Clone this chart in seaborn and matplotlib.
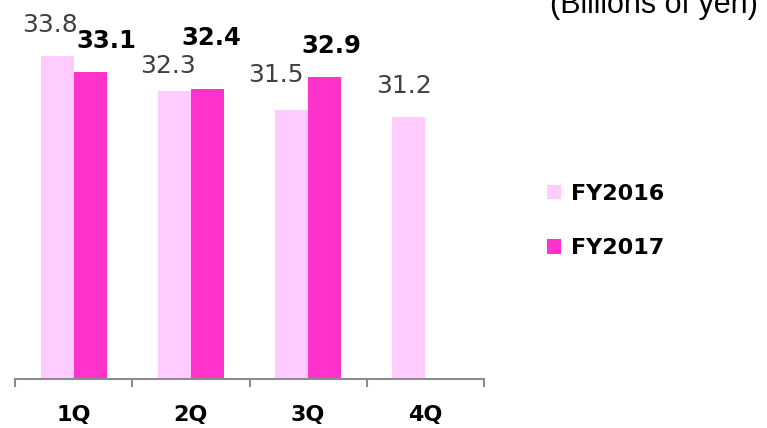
import matplotlib
matplotlib.use("Agg")
import matplotlib.pyplot as plt
import numpy as np
import pandas as pd
import seaborn as sns

# Quarterly figures (billions of yen)
quarters = ["1Q", "2Q", "3Q", "4Q"]
fy2016 = [33.8, 32.3, 31.5, 31.2]
fy2017 = [33.1, 32.4, 32.9, np.nan]
series_names = ["FY2016", "FY2017"]

df = pd.DataFrame({
    "quarter": quarters * 2,
    "value": fy2016 + fy2017,
    "year": [series_names[0]] * 4 + [series_names[1]] * 4,
})

sns.set_theme(style="white")
plt.rcParams["font.family"] = ["DejaVu Sans"]
plt.rcParams["text.color"] = "black"

W, H = 767, 428
fig = plt.figure(figsize=(W / 100, H / 100), dpi=100)
# plot area in pixel terms: x 15..484, baseline at y=379
ax = fig.add_axes([15 / W, (H - 379) / H, 469 / W, 351 / H])

palette = {"FY2016": "#FFCCFF", "FY2017": "#FF33CC"}
sns.barplot(data=df, x="quarter", y="value", hue="year", order=quarters,
            hue_order=series_names, palette=palette, width=0.565,
            errorbar=None, saturation=1, linewidth=0, ax=ax, legend=True)

ax.set_ylim(20, 35)
ax.set_xlim(-0.5, 3.5)
ax.set_xlabel("")
ax.set_ylabel("")
ax.set_yticks([])
for side in ["left", "right", "top"]:
    ax.spines[side].set_visible(False)
ax.spines["bottom"].set_color("#8C8C8C")
ax.spines["bottom"].set_linewidth(1.5)

# category labels centred, boundary tick marks between categories
ax.set_xticks(range(len(quarters)))
ax.set_xticklabels(quarters, fontsize=16, fontweight="bold", color="black")
ax.tick_params(axis="x", which="major", length=0, pad=19)
ax.set_xticks(np.arange(-0.5, len(quarters), 1.0), minor=True)
ax.tick_params(axis="x", which="minor", length=6, width=1.5, color="#8C8C8C",
               direction="out", bottom=True)

# value labels: (dx, dy) in pixels relative to each bar's top centre
label_offsets = {
    "FY2016": [(-7, 24), (-6, 18), (-16, 28), (-5, 24)],
    "FY2017": [(16, 24), (4, 44), (7, 24), (0, 24)],
}
label_style = {
    "FY2016": dict(fontsize=18, color="#404040", fontweight="normal"),
    "FY2017": dict(fontsize=17.5, color="black", fontweight="bold"),
}
for container, name in zip(ax.containers, series_names):
    for bar in container:
        h = bar.get_height()
        if not np.isfinite(h):
            continue
        cx = bar.get_x() + bar.get_width() / 2
        idx = int(round(cx))
        dx, dy = label_offsets[name][idx]
        ax.annotate(f"{h:.1f}", xy=(cx, h), xytext=(dx, dy),
                    textcoords="offset pixels", ha="center", va="baseline",
                    annotation_clip=False, **label_style[name])

handles, labels = ax.get_legend_handles_labels()
leg = ax.legend(handles, labels, loc="upper left",
                bbox_to_anchor=(547 / W, 1 - 184 / H),
                bbox_transform=fig.transFigure, frameon=False,
                prop={"size": 16, "weight": "bold"}, handlelength=0.62,
                handleheight=0.62, handletextpad=0.45, labelspacing=1.55,
                borderpad=0, borderaxespad=0)
for t in leg.get_texts():
    t.set_color("black")

fig.text(550 / W, 1 - 13 / H, "(Billions of yen)", fontsize=22,
         family=["Liberation Sans", "DejaVu Sans"], color="black",
         ha="left", va="baseline")

fig.savefig("out.png", dpi=100)
